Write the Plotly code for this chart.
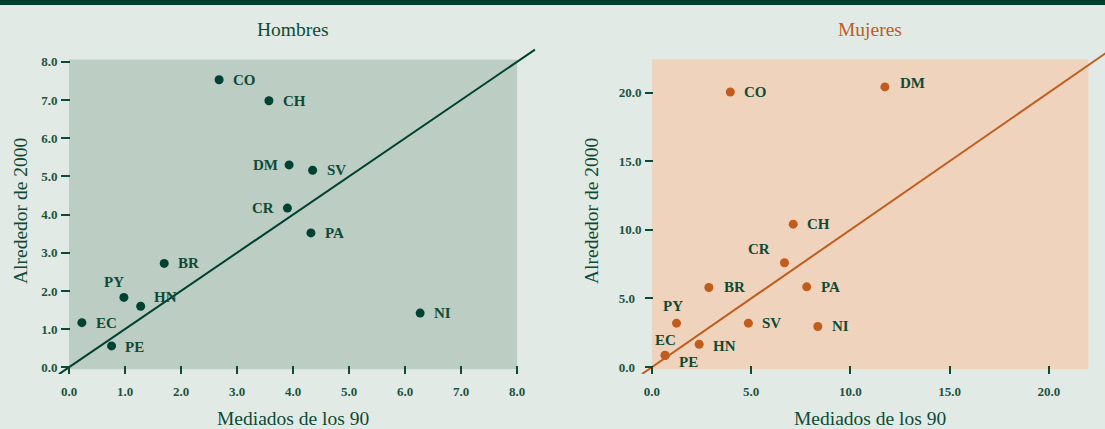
import plotly.graph_objects as go

# ---------------- data ----------------
hombres_paises = ["CO", "CH", "DM", "SV", "CR", "PA", "BR", "PY", "HN", "EC", "PE", "NI"]
hombres_90 = [2.68, 3.57, 3.93, 4.35, 3.90, 4.32, 1.70, 0.98, 1.28, 0.23, 0.76, 6.27]
hombres_2000 = [7.53, 6.98, 5.30, 5.16, 4.17, 3.52, 2.72, 1.83, 1.60, 1.17, 0.56, 1.42]

mujeres_paises = ["CO", "DM", "CH", "CR", "BR", "PA", "PY", "SV", "NI", "HN", "EC", "PE"]
mujeres_90 = [3.95, 11.74, 7.12, 6.68, 2.87, 7.80, 1.24, 4.86, 8.36, 2.38, 0.66, 0.67]
mujeres_2000 = [20.04, 20.41, 10.41, 7.60, 5.80, 5.85, 3.20, 3.20, 2.96, 1.67, 0.87, 0.84]

hombres_ticks = [0.0, 1.0, 2.0, 3.0, 4.0, 5.0, 6.0, 7.0, 8.0]
mujeres_ticks = [0.0, 5.0, 10.0, 15.0, 20.0]

# 45-degree reference line (y = x) extents
hombres_diag = [-0.18, 8.32]
mujeres_diag = [-0.5, 23.5]

# shaded panel extents (data units)
hombres_panel = dict(x0=0.0, x1=8.0, y0=-0.05, y1=8.06)
mujeres_panel = dict(x0=0.0, x1=22.0, y0=-0.15, y1=22.4)

# ---------------- style ----------------
W, H = 1105, 429
BG = "#e1eae5"
BAR = "#003f2e"
GREEN = "#004232"
TXT = "#0e4a36"
TICKTXT = "#1d5341"
ORANGE = "#c05c1e"
SHADE_H = "#bccdc4"
SHADE_M = "#f0d3bc"
FONT = "Liberation Serif"

# label placement: (xanchor, xshift, yshift) in pixels
R = ("left", 12, 0)
L = ("right", -9, 0)
lab_h = {"CO": R, "CH": R, "DM": L, "SV": R, "CR": ("right", -11, 0), "PA": R,
         "BR": R, "PY": ("center", -10, 15), "HN": ("left", 11, 9), "EC": R,
         "PE": ("left", 11, -1), "NI": R}
lab_m = {"CO": R, "DM": ("left", 13, 4), "CH": R, "CR": ("right", -12, 14), "BR": ("left", 13, 0),
         "PA": R, "PY": ("center", -4, 17), "SV": R, "NI": R, "HN": ("left", 12, -2),
         "EC": ("center", 0, 15), "PE": ("left", 12, -6)}


def px_x(p):
    return p / W


def px_y(p):
    return 1 - p / H


fig = go.Figure()

# reference lines
fig.add_trace(go.Scatter(x=hombres_diag, y=hombres_diag, mode="lines",
                         line=dict(color=GREEN, width=2), xaxis="x", yaxis="y",
                         hoverinfo="skip", showlegend=False))
fig.add_trace(go.Scatter(x=mujeres_diag, y=mujeres_diag, mode="lines",
                         line=dict(color=ORANGE, width=2), xaxis="x2", yaxis="y2",
                         hoverinfo="skip", showlegend=False))
# points
fig.add_trace(go.Scatter(x=hombres_90, y=hombres_2000, mode="markers", text=hombres_paises,
                         marker=dict(color=GREEN, size=9), xaxis="x", yaxis="y",
                         showlegend=False, cliponaxis=False))
fig.add_trace(go.Scatter(x=mujeres_90, y=mujeres_2000, mode="markers", text=mujeres_paises,
                         marker=dict(color=ORANGE, size=9), xaxis="x2", yaxis="y2",
                         showlegend=False, cliponaxis=False))

annotations = []
for names, xs, ys, lab, xr, yr in [
    (hombres_paises, hombres_90, hombres_2000, lab_h, "x", "y"),
    (mujeres_paises, mujeres_90, mujeres_2000, lab_m, "x2", "y2"),
]:
    for n, xv, yv in zip(names, xs, ys):
        xa, dx, dy = lab[n]
        annotations.append(dict(x=xv, y=yv, xref=xr, yref=yr, text="<b>" + n + "</b>", showarrow=False,
                                xanchor=xa, yanchor="middle", xshift=dx, yshift=dy,
                                font=dict(family=FONT, size=15, color=TXT)))

TITLE_SIZE = 19.5
# titles
annotations.append(dict(x=(hombres_panel["x0"] + hombres_panel["x1"]) / 2, y=px_y(29), xref="x", yref="paper",
                        text="Hombres", showarrow=False, xanchor="center", yanchor="middle",
                        font=dict(family=FONT, size=TITLE_SIZE, color=TXT)))
annotations.append(dict(x=(mujeres_panel["x0"] + mujeres_panel["x1"]) / 2, y=px_y(29), xref="x2", yref="paper",
                        text="Mujeres", showarrow=False, xanchor="center", yanchor="middle",
                        font=dict(family=FONT, size=TITLE_SIZE, color=ORANGE)))
for xr, panel in [("x", hombres_panel), ("x2", mujeres_panel)]:
    annotations.append(dict(x=(panel["x0"] + panel["x1"]) / 2, y=px_y(418), xref=xr, yref="paper",
                            text="Mediados de los 90", showarrow=False, xanchor="center", yanchor="middle",
                            font=dict(family=FONT, size=TITLE_SIZE, color=TXT)))
for xp in [20, 591]:
    annotations.append(dict(x=px_x(xp), y=px_y(211), xref="paper", yref="paper",
                            text="Alrededor de 2000", showarrow=False, textangle=-90,
                            xanchor="center", yanchor="middle",
                            font=dict(family=FONT, size=TITLE_SIZE, color=TXT)))

shapes = [
    dict(type="rect", xref="paper", yref="paper", x0=0, x1=1, y0=px_y(5), y1=1,
         fillcolor=BAR, line=dict(width=0), layer="below"),
    dict(type="rect", xref="x", yref="y", layer="below", fillcolor=SHADE_H, line=dict(width=0),
         **hombres_panel),
    dict(type="rect", xref="x2", yref="y2", layer="below", fillcolor=SHADE_M, line=dict(width=0),
         **mujeres_panel),
]

tickfont = dict(family=FONT, size=13, color=TICKTXT)


def fmt(v):
    return "<b>%.1f</b>" % v


def fmt_pad(v, width):
    s = "%.1f" % v
    return "<b>" + s + "\u2007" * (width - len(s)) + "</b>"


common = dict(showgrid=False, zeroline=False, showline=False, ticks="outside",
              tickcolor=TXT, tickwidth=1.5, tickfont=tickfont, fixedrange=True)

ydom = [px_y(374), px_y(45)]

fig.update_layout(
    width=W, height=H, margin=dict(l=0, r=0, t=0, b=0),
    paper_bgcolor=BG, plot_bgcolor="rgba(0,0,0,0)",
    showlegend=False, hovermode=False,
    xaxis=dict(domain=[px_x(57.8), px_x(540)], range=[-0.2, 8.41], anchor="free", position=px_y(365),
               tickvals=hombres_ticks, ticktext=[fmt(v) for v in hombres_ticks], ticklen=8,
               ticklabelstandoff=6, **common),
    yaxis=dict(domain=ydom, range=[-0.175, 8.44], anchor="free", position=px_x(70),
               tickvals=hombres_ticks, ticktext=[fmt(v) for v in hombres_ticks], ticklen=9,
               ticklabelstandoff=1, **common),
    xaxis2=dict(domain=[px_x(641), 1.0], range=[-0.55, 22.83], anchor="free", position=px_y(365),
                tickvals=mujeres_ticks, ticktext=[fmt(v) for v in mujeres_ticks], ticklen=8,
                ticklabelstandoff=6, **common),
    yaxis2=dict(domain=ydom, range=[-0.5, 23.46], anchor="free", position=px_x(653),
                tickvals=mujeres_ticks, ticktext=[fmt_pad(v, 4) for v in mujeres_ticks], ticklen=8,
                ticklabelstandoff=1, **common),
    annotations=annotations,
    shapes=shapes,
)

fig.write_html(
    "out.html",
    config={"displayModeBar": False},
    post_script="document.body.style.margin='0';document.body.style.overflow='hidden';"
                "document.body.style.background='" + BG + "';",
)
